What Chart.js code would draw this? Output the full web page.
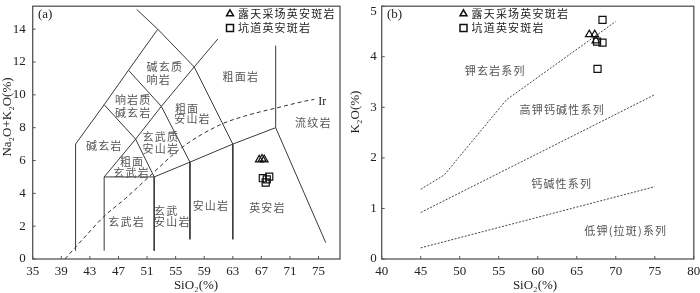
<!DOCTYPE html>
<html>
<head>
<meta charset="utf-8">
<script src="https://cdn.jsdelivr.net/npm/chart.js@4.4.0/dist/chart.umd.min.js"></script>
<style>
html, body { margin: 0; padding: 0; background: #fff; }
#wrapA { position: absolute; left: 0; top: 0; width: 350px; height: 293px; }
#wrapB { position: absolute; left: 350px; top: 0; width: 350px; height: 293px; }
</style>
</head>
<body>
<div id="wrapA"><canvas id="tasChart"></canvas></div>
<div id="wrapB"><canvas id="k2oChart"></canvas></div>
<script>
// ---- panel (a): TAS ----
var tasXTicks = [35, 39, 43, 47, 51, 55, 59, 63, 67, 71, 75];
var tasYTicks = [0, 2, 4, 6, 8, 10, 12, 14];

// sample points (SiO2 / Na2O+K2O)
var pitSiO2 = [66.7, 67.1, 67.4];
var pitAlk = [6.05, 6.1, 6.05];
var tunnelSiO2 = [67.2, 68.1, 67.6, 67.75];
var tunnelAlk = [4.92, 5.02, 4.66, 4.85];

// field boundaries, [SiO2, alkali]
var tasLines = [
    [[41, 0.5], [41, 7], [45, 9.4], [48.4, 11.5], [52.5, 14], [49.55, 15.2]],
    [[52.5, 14], [57.6, 11.7], [63, 7], [63, 1.2]],
    [[57.6, 11.7], [60.9, 13.4]],
    [[45, 9.4], [49.4, 7.3], [53, 9.3], [57.6, 11.7]],
    [[48.4, 11.5], [53, 9.3], [57, 5.9], [57, 1.2]],
    [[45, 0.5], [45, 5], [52, 5], [52, 0.5]],
    [[45, 5], [49.4, 7.3], [52, 5], [57, 5.9], [63, 7], [69, 8], [76, 1]],
    [[69, 8], [69, 13]]
];

// Irvine & Baragar alkaline / subalkaline curve
var irSiO2 = [39.5, 42, 45, 48, 51.4, 55.8, 61.2, 65, 69.1, 73.8, 74.4];
var irAlk = [0, 1.2, 2.6, 3.7, 5.06, 6.77, 8.17, 8.75, 9.2, 9.68, 9.72];

var tasLabels = [
    ['碱玄质', 50.93, 11.69], ['响岩', 50.93, 10.94],
    ['粗面岩', 61.57, 11.07],
    ['响岩质', 46.5, 9.71], ['碱玄岩', 46.5, 8.92],
    ['粗面', 54.9, 9.16], ['安山岩', 54.8, 8.52],
    ['流纹岩', 71.7, 8.32],
    ['碱玄岩', 42.45, 6.87],
    ['玄武质', 50.38, 7.43], ['安山岩', 50.38, 6.73],
    ['粗面', 47.2, 5.89], ['玄武岩', 46.27, 5.23],
    ['玄武岩', 45.57, 2.29],
    ['玄武', 51.97, 2.95], ['安山岩', 51.97, 2.29],
    ['安山岩', 57.38, 3.24],
    ['英安岩', 65.29, 3.14]
];

// ---- panel (b): K2O vs SiO2 ----
var kXTicks = [40, 45, 50, 55, 60, 65, 70, 75, 80];
var kYTicks = [0, 1, 2, 3, 4, 5];

var pitK2O = [4.44, 4.44, 4.32];
var pitSiO2b = [66.6, 67.3, 67.45];
var tunnelK2O = [4.73, 4.28, 3.76, 4.3];
var tunnelSiO2b = [68.3, 68.3, 67.66, 67.6];

var shoshLine = [[45, 1.38], [48, 1.66], [56, 3.15], [70, 4.7]];
var highKLine = [[45, 0.92], [75, 3.25]];
var lowKLine = [[45, 0.22], [75, 1.43]];

var kLabels = [
    ['钾玄岩系列', 50.64, 3.73],
    ['高钾钙碱性系列', 57.66, 2.95],
    ['钙碱性系列', 59.16, 1.48],
    ['低钾(拉斑)系列', 65.96, 0.55]
];

var legendNames = ['露天采场英安斑岩', '坑道英安斑岩'];

var serif = '"Liberation Serif", "Times New Roman", serif';
var cjk = '"Noto Sans CJK SC", sans-serif';

function pts(xs, ys) {
    return xs.map(function(x, i) { return {x: x, y: ys[i]}; });
}
function pairs(arr) {
    return arr.map(function(p) { return {x: p[0], y: p[1]}; });
}

function drawSpaced(ctx, text, x, y, gap) {
    for (var i = 0; i < text.length; i++) {
        var ch = text[i];
        ctx.fillText(ch, x, y);
        x += ctx.measureText(ch).width + gap;
    }
}

function triangle(ctx, x, y, r) {
    ctx.beginPath();
    ctx.moveTo(x, y - r);
    ctx.lineTo(x + r * 0.87, y + r * 0.5);
    ctx.lineTo(x - r * 0.87, y + r * 0.5);
    ctx.closePath();
    ctx.stroke();
}

var frame = {
    id: 'frame',
    afterDraw: function(chart, args, opts) {
        var ctx = chart.ctx, a = chart.chartArea;
        var xs = chart.scales.x, ys = chart.scales.y;
        ctx.save();
        ctx.strokeStyle = '#555';
        ctx.lineWidth = 1.3;
        ctx.strokeRect(a.left, a.top, a.right - a.left, a.bottom - a.top);

        // inward tick marks
        ctx.lineWidth = 1;
        ctx.beginPath();
        xs.ticks.forEach(function(t) {
            var px = xs.getPixelForValue(t.value);
            ctx.moveTo(px, a.bottom);
            ctx.lineTo(px, a.bottom - 3);
        });
        ys.ticks.forEach(function(t) {
            var py = ys.getPixelForValue(t.value);
            ctx.moveTo(a.left, py);
            ctx.lineTo(a.left + 3, py);
        });
        ctx.stroke();

        // field names
        ctx.font = '11px ' + cjk;
        ctx.fillStyle = '#555';
        ctx.textBaseline = 'middle';
        ctx.textAlign = 'left';
        opts.labels.forEach(function(l) {
            drawSpaced(ctx, l[0], xs.getPixelForValue(l[1]), ys.getPixelForValue(l[2]), 1.2);
        });

        // panel tag
        ctx.fillStyle = '#222';
        ctx.font = '13px ' + serif;
        ctx.fillText(opts.tag, opts.tagX, 15);
        if (opts.extra) {
            ctx.font = '12px ' + serif;
            ctx.fillText(opts.extra[0], xs.getPixelForValue(opts.extra[1]), ys.getPixelForValue(opts.extra[2]));
        }

        // legend
        ctx.strokeStyle = '#111';
        ctx.lineWidth = 1.5;
        triangle(ctx, opts.legX, 13.8, 4);
        ctx.strokeRect(opts.legX - 3.5, 24.5, 7, 7);
        ctx.font = '11px ' + cjk;
        ctx.fillStyle = '#222';
        drawSpaced(ctx, legendNames[0], opts.legX + 8, 13.5, 1.2);
        drawSpaced(ctx, legendNames[1], opts.legX + 8, 28, 1.2);

        // axis titles
        ctx.font = '13px ' + serif;
        ctx.textAlign = 'center';
        ctx.fillText('SiO₂(%)', opts.xTitleX, 286);
        ctx.translate(opts.yTitleX, opts.yTitleY);
        ctx.rotate(-Math.PI / 2);
        ctx.fillText(opts.yTitle, 0, 0);
        ctx.restore();
    }
};

function lineSet(data, dash, color) {
    return {
        data: data, showLine: true, fill: false, pointRadius: 0,
        borderColor: color || '#3a3a3a', borderWidth: 1, borderDash: dash || [], tension: 0
    };
}

function markerSets(triData, rectData) {
    return [{
        data: triData, pointStyle: 'triangle', pointRadius: 4.4, pointBorderWidth: 1.2,
        borderColor: '#111', backgroundColor: 'rgba(0,0,0,0)', showLine: false
    }, {
        data: rectData, pointStyle: 'rect', pointRadius: 5, pointBorderWidth: 1.2,
        borderColor: '#111', backgroundColor: 'rgba(0,0,0,0)', showLine: false
    }];
}

function axisOpts(min, max, tickVals, size, tickPad, extraFont) {
    var font = {family: serif, size: 13};
    if (extraFont) font.lineHeight = extraFont;
    return {
        type: 'linear', min: min, max: max,
        afterBuildTicks: function(s) { s.ticks = tickVals.map(function(v) { return {value: v}; }); },
        afterFit: function(s) {
            if (s.isHorizontal()) { s.height = size; s.paddingLeft = 0; s.paddingRight = 0; }
            else { s.width = size; s.paddingTop = 0; s.paddingBottom = 0; }
        },
        grid: {display: false, drawTicks: false},
        border: {display: false},
        ticks: {font: font, color: '#222', padding: tickPad, maxRotation: 0, autoSkip: false}
    };
}

// chart (a)
var tasSets = tasLines.map(function(l) { return lineSet(pairs(l)); });
var irSet = lineSet(pts(irSiO2, irAlk), [4, 3], '#333');
irSet.cubicInterpolationMode = 'monotone';
tasSets.push(irSet);
tasSets = markerSets(pts(pitSiO2, pitAlk), pts(tunnelSiO2, tunnelAlk)).concat(tasSets);

var tasX = axisOpts(35, 78, tasXTicks, 34, 5);
var tasY = axisOpts(0, 15.4, tasYTicks, 32.7, 7);

new Chart(document.getElementById('tasChart'), {
    type: 'scatter',
    data: {datasets: tasSets},
    options: {
        responsive: true, maintainAspectRatio: false, animation: false,
        layout: {padding: {left: 0, right: 10, top: 2, bottom: 0}},
        plugins: {
            legend: {display: false}, tooltip: {enabled: false},
            frame: {
                labels: tasLabels, tag: '(a)', tagX: 38, extra: ['Ir', 74.94, 9.58],
                legX: 230, xTitleX: 196, yTitleX: 8, yTitleY: 117, yTitle: 'Na₂O+K₂O(%)'
            }
        },
        scales: {x: tasX, y: tasY}
    },
    plugins: [frame]
});

// chart (b)
var kSets = markerSets(pts(pitSiO2b, pitK2O), pts(tunnelSiO2b, tunnelK2O)).concat([
    lineSet(pairs(shoshLine), [2, 1.5], '#444'),
    lineSet(pairs(highKLine), [2, 1.5], '#444'),
    lineSet(pairs(lowKLine), [2, 1.5], '#444')
]);

var kX = axisOpts(40, 80, kXTicks, 34, 5);
var kY = axisOpts(0, 5, kYTicks, 31.7, 5, 0.88);
kY.ticks.callback = function(v) { return v === 5 ? ['', '5'] : String(v); };

new Chart(document.getElementById('k2oChart'), {
    type: 'scatter',
    data: {datasets: kSets},
    options: {
        responsive: true, maintainAspectRatio: false, animation: false,
        layout: {padding: {left: 0, right: 5, top: 1, bottom: 0}},
        plugins: {
            legend: {display: false}, tooltip: {enabled: false},
            frame: {
                labels: kLabels, tag: '(b)', tagX: 37,
                legX: 113.5, xTitleX: 185, yTitleX: 6, yTitleY: 112, yTitle: 'K₂O(%)'
            }
        },
        scales: {x: kX, y: kY}
    },
    plugins: [frame]
});
</script>
</body>
</html>
